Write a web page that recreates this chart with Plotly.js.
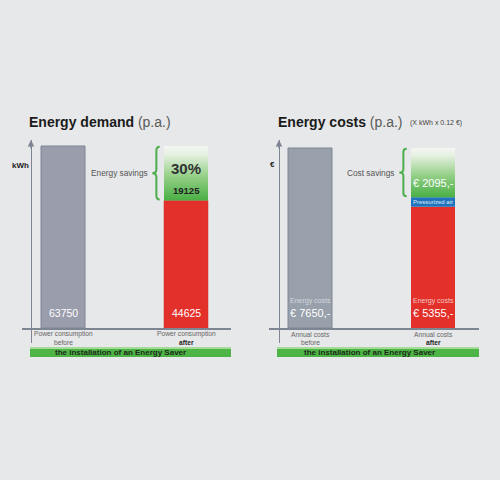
<!DOCTYPE html>
<html><head><meta charset="utf-8">
<script src="https://cdn.plot.ly/plotly-3.0.1.min.js"></script>
<style>html,body{margin:0;padding:0;background:#e7e8e9;}#chart{width:500px;height:480px;}</style>
</head><body><div id="chart"></div>
<script>
// ---- data ----
const barPositions = [0, 1];
const demandLine1 = ['Power consumption', 'Power consumption'];
const demandLine2 = ['before', '<b>after</b>'];
const demandBefore = [63750];
const demandAfter = [44625];
const demandSavings = [19125];
const demandPct = ['30%'];
const demandLabels = ['63750', '44625'];

const costLine1 = ['Annual costs', 'Annual costs'];
const costLine2 = ['before', '<b>after</b>'];
const costBefore = [7650];
const costAfterRed = [5150];          // red part
const costPressAir = [405];           // blue band
const costSavings = [2095];
const costLabels = ['€ 7650,-', '€ 5355,-'];
const costSavingsLabel = ['€ 2095,-'];

// ---- helpers ----
const W = 500, H = 480;
const px = x => x / W, py = y => 1 - y / H;
const FONT = 'Liberation Sans, Arial, sans-serif';
const NARROW = 'Liberation Sans Narrow, Liberation Sans, Arial, sans-serif';
const AXC = '#7d8593';
const BW = 44 / 123;

const traces = [];
const shapes = [];
const ann = [];

// left panel
traces.push({type:'bar', x:[barPositions[0]], y:demandBefore, width:BW, xaxis:'x', yaxis:'y',
  marker:{color:'#9a9dab', line:{color:'#7f8694', width:1}}, hoverinfo:'skip'});
traces.push({type:'bar', x:[barPositions[1]], y:demandAfter, width:BW, xaxis:'x', yaxis:'y',
  marker:{color:'#e3302a', line:{color:'#c8322b', width:0.5}}, hoverinfo:'skip'});
const gx = barPositions[1];
const greenScale = [[0,'#4aaf45'],[0.45,'#95d088'],[0.85,'#e6f1e2'],[1,'#f4f6f3']];
traces.push({type:'scatter', mode:'lines', xaxis:'x', yaxis:'y',
  x:[gx-BW/2, gx+BW/2, gx+BW/2, gx-BW/2, gx-BW/2],
  y:[demandAfter[0], demandAfter[0], demandAfter[0]+demandSavings[0], demandAfter[0]+demandSavings[0], demandAfter[0]],
  fill:'toself', line:{width:0}, hoverinfo:'skip',
  fillgradient:{type:'vertical', colorscale:greenScale}});

// right panel
traces.push({type:'bar', x:[barPositions[0]], y:costBefore, width:BW, xaxis:'x2', yaxis:'y2',
  marker:{color:'#98a0ab', line:{color:'#7f8694', width:1}}, hoverinfo:'skip'});
traces.push({type:'bar', x:[barPositions[1]], y:costAfterRed, width:BW, xaxis:'x2', yaxis:'y2',
  marker:{color:'#e3302a', line:{width:0}}, hoverinfo:'skip'});
traces.push({type:'bar', x:[barPositions[1]], y:costPressAir, base:costAfterRed, width:BW, xaxis:'x2', yaxis:'y2',
  marker:{color:'#1f74bd', line:{width:0}}, hoverinfo:'skip'});
const cBase = costAfterRed[0] + costPressAir[0];
traces.push({type:'scatter', mode:'lines', xaxis:'x2', yaxis:'y2',
  x:[gx-BW/2, gx+BW/2, gx+BW/2, gx-BW/2, gx-BW/2],
  y:[cBase, cBase, cBase+costSavings[0], cBase+costSavings[0], cBase],
  fill:'toself', line:{width:0}, hoverinfo:'skip',
  fillgradient:{type:'vertical', colorscale:greenScale}});

// brace helper (data coords)
function brace(xref, yref, yBot, yTop) {
  const left = gx - BW/2;
  const xr = left - 0.035, xv = left - 0.062, xt = left - 0.095;
  const d = (yTop - yBot) * 0.07, m = (yTop + yBot) / 2;
  const p = `M ${xr},${yTop} Q ${xv},${yTop} ${xv},${yTop-d} L ${xv},${m+d} Q ${xv},${m} ${xt},${m} Q ${xv},${m} ${xv},${m-d} L ${xv},${yBot+d} Q ${xv},${yBot} ${xr},${yBot}`;
  shapes.push({type:'path', xref, yref, path:p, line:{color:'#4cae4c', width:2}});
  return xt;
}
const bl = brace('x', 'y', demandAfter[0] + 400, demandBefore[0] - 300);
const br = brace('x2', 'y2', cBase + 40, costBefore[0] - 30);

// green strips
[[30, 231], [277, 479]].forEach(([a, b]) => {
  shapes.push({type:'rect', xref:'paper', yref:'paper', x0:px(a), x1:px(b), y0:py(357), y1:py(347),
    fillcolor:'#4db446', line:{width:0}, layer:'below'});
  shapes.push({type:'rect', xref:'paper', yref:'paper', x0:px(a), x1:px(b), y0:py(349), y1:py(347),
    fillcolor:'#a6da98', line:{width:0}, layer:'below'});
});

// axis arrows
[31, 279].forEach(x => ann.push({xref:'paper', yref:'paper', x:px(x), y:py(140), text:'', showarrow:true,
  ax:0, ay:10, arrowhead:2, arrowsize:1, arrowwidth:1.3, arrowcolor:AXC}));

// titles
ann.push({xref:'paper', yref:'paper', x:px(27), y:py(122), xanchor:'left', yanchor:'middle', showarrow:false,
  text:'<b>Energy demand</b> <span style="color:#5a5a5a">(p.a.)</span>', font:{family:FONT, size:14, color:'#1b1b1b'}});
ann.push({xref:'paper', yref:'paper', x:px(276), y:py(122), xanchor:'left', yanchor:'middle', showarrow:false,
  text:'<b>Energy costs</b> <span style="color:#5a5a5a">(p.a.)</span>', font:{family:FONT, size:14, color:'#1b1b1b'}});
ann.push({xref:'paper', yref:'paper', x:px(408), y:py(123), xanchor:'left', yanchor:'middle', showarrow:false,
  text:'(X kWh x 0.12 €)', font:{family:NARROW, size:7, color:'#444'}});
ann.push({xref:'paper', yref:'paper', x:px(20), y:py(165), xanchor:'center', yanchor:'middle', showarrow:false,
  text:'<b>kWh</b>', font:{family:FONT, size:8, color:'#222'}});
ann.push({xref:'paper', yref:'paper', x:px(272), y:py(164), xanchor:'center', yanchor:'middle', showarrow:false,
  text:'<b>€</b>', font:{family:FONT, size:8, color:'#222'}});

// category labels
[['x', demandLine1, demandLine2], ['x2', costLine1, costLine2]].forEach(([xr, l1, l2]) => {
  barPositions.forEach((b, i) => {
    ann.push({xref:xr, yref:'paper', x:b, y:py(334), xanchor:'center', yanchor:'middle', showarrow:false,
      text:l1[i], font:{family:NARROW, size:6.7, color:'#666'}});
    ann.push({xref:xr, yref:'paper', x:b, y:py(342), xanchor:'center', yanchor:'middle', showarrow:false,
      text:l2[i], font:{family:NARROW, size:6.7, color:i ? '#222' : '#666'}});
  });
});
// strip texts
[53, 302].forEach(x => ann.push({xref:'paper', yref:'paper', x:px(x), y:py(352), xanchor:'left', yanchor:'middle',
  showarrow:false, text:'<b>the installation of an Energy Saver</b>', font:{family:FONT, size:8, color:'#1d2a1a'}}));

// values in bars (left)
barPositions.forEach((b, i) => ann.push({xref:'x', yref:'y', x:b, y:0, yshift:15, xanchor:'center', yanchor:'middle',
  showarrow:false, text:demandLabels[i], font:{family:FONT, size:10.5, color:'#ffffff'}}));
ann.push({xref:'x', yref:'y', x:gx, y:demandBefore[0], yshift:-22, xanchor:'center', yanchor:'middle', showarrow:false,
  text:'<b>' + demandPct[0] + '</b>', font:{family:FONT, size:15, color:'#333'}});
ann.push({xref:'x', yref:'y', x:gx, y:demandAfter[0], yshift:10, xanchor:'center', yanchor:'middle', showarrow:false,
  text:'<b>' + demandSavings[0] + '</b>', font:{family:FONT, size:9.5, color:'#222'}});
ann.push({xref:'x', yref:'y', x:bl, y:(demandAfter[0] + demandBefore[0]) / 2, xshift:-2, xanchor:'right', yanchor:'middle',
  showarrow:false, text:'Energy savings', font:{family:NARROW, size:8.3, color:'#555'}});

// values in bars (right)
barPositions.forEach((b, i) => {
  ann.push({xref:'x2', yref:'y2', x:b, y:0, yshift:27, xanchor:'center', yanchor:'middle', showarrow:false,
    text:'Energy costs', font:{family:NARROW, size:7, color:i ? '#f3c7c2' : '#d6d9de'}});
  ann.push({xref:'x2', yref:'y2', x:b, y:0, yshift:15, xanchor:'center', yanchor:'middle', showarrow:false,
    text:costLabels[i], font:{family:FONT, size:11, color:'#ffffff'}});
});
ann.push({xref:'x2', yref:'y2', x:gx, y:cBase, yshift:14, xanchor:'center', yanchor:'middle', showarrow:false,
  text:costSavingsLabel[0], font:{family:FONT, size:11, color:'#ffffff'}});
ann.push({xref:'x2', yref:'y2', x:gx, y:costAfterRed[0] + costPressAir[0] / 2, xanchor:'center', yanchor:'middle', showarrow:false,
  text:'Pressurized air', font:{family:NARROW, size:6, color:'#dfeaf5'}});
ann.push({xref:'x2', yref:'y2', x:br, y:(cBase + costBefore[0]) / 2, xshift:-2, xanchor:'right', yanchor:'middle',
  showarrow:false, text:'Cost savings', font:{family:NARROW, size:8.3, color:'#555'}});

// axes
const U1 = demandBefore[0] / 182, U2 = costBefore[0] / 180;
const ydom = [py(343), py(140)];
const hidden = {showgrid:false, zeroline:false, showticklabels:false, ticks:'', fixedrange:true};
const layout = {
  width:W, height:H, margin:{l:0, r:0, t:0, b:0},
  paper_bgcolor:'#e7e8e9', plot_bgcolor:'rgba(0,0,0,0)', showlegend:false, barmode:'overlay',
  xaxis:Object.assign({}, hidden, {domain:[px(22), px(231)], range:[-(63-22)/123, 1+(231-186)/123],
    anchor:'free', position:py(328), showline:true, linecolor:AXC, linewidth:1.5}),
  yaxis:Object.assign({}, hidden, {domain:ydom, range:[-15*U1, 188*U1], anchor:'free', position:px(31),
    showline:true, linecolor:AXC, linewidth:1.3}),
  xaxis2:Object.assign({}, hidden, {domain:[px(269), px(479)], range:[-(310-269)/123, 1+(479-433)/123],
    anchor:'free', position:py(328), showline:true, linecolor:AXC, linewidth:1.5}),
  yaxis2:Object.assign({}, hidden, {domain:ydom, range:[-15*U2, 188*U2], anchor:'free', position:px(279),
    showline:true, linecolor:AXC, linewidth:1.3}),
  shapes, annotations:ann
};
Plotly.newPlot('chart', traces, layout, {displayModeBar:false, staticPlot:true});
</script></body></html>
